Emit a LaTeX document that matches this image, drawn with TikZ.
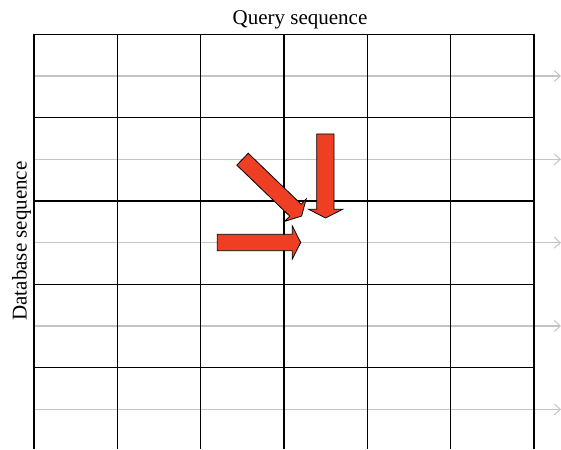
\documentclass[tikz,border=0pt]{standalone}
\usepackage{fontspec}
\setmainfont{Liberation Serif}
\usetikzlibrary{arrows.meta}
\definecolor{arrowred}{HTML}{EE3F24}
\definecolor{rowgray}{HTML}{C4C4C4}
\tikzset{
  gridline/.style={line width=1.5pt, black},
  rowline/.style={line width=1.1pt, rowgray, -{Straight Barb[length=6pt,width=11pt,line width=1pt]}},
  blockarrow/.style={fill=arrowred, draw=black, line width=0.8pt, line join=miter},
  label/.style={font=\fontsize{21}{24}\selectfont, inner sep=0pt}
}
\begin{document}
\begin{tikzpicture}[x=1pt,y=-1pt]
\useasboundingbox (0,0) rectangle (561,449);
% gray row arrows
\foreach \r in {0,...,4}{
  \coordinate (rs\r) at (34,{76+83.33*\r});
  \coordinate (re\r) at (561,{76+83.33*\r});
  \draw[rowline] (rs\r) -- (re\r);
}
% grid
\foreach \c in {0,...,6}{
  \draw[gridline] ({34+83.33*\c},34.4) -- ({34+83.33*\c},449);
}
\foreach \r in {0,...,4}{
  \draw[gridline] (34,{34.4+83.33*\r}) -- (534,{34.4+83.33*\r});
}
% labels
\node[label, anchor=base] (query) at (300,25) {Query sequence};
\node[label, anchor=base, rotate=90] (db) at (26.5,241) {Database sequence};
% block arrows
\draw[blockarrow] (316.7,134) -- (334,134) -- (334,209.3) -- (342.7,209.3) -- (325.5,218) -- (308.7,209.3) -- (316.7,209.3) -- cycle;
\draw[blockarrow] (217.3,234.3) -- (292.3,234.3) -- (292.3,226) -- (300.7,242.5) -- (292.3,259) -- (292.3,250.7) -- (217.3,250.7) -- cycle;
\draw[blockarrow] (248.22,153.26) -- (301.17,204.24) -- (306.2,199.0) -- (301.57,216.08) -- (284.7,221.35) -- (289.73,216.12) -- (236.78,165.14) -- cycle;
\end{tikzpicture}
\end{document}
